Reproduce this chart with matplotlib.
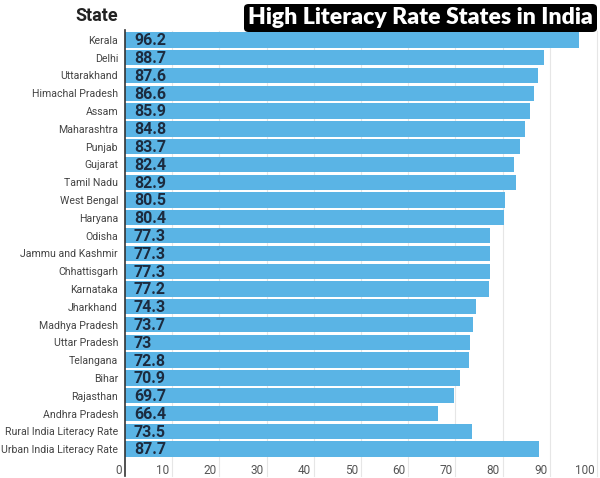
import matplotlib
matplotlib.use("Agg")
import matplotlib.pyplot as plt
import matplotlib.transforms as mtransforms
from matplotlib.patches import FancyBboxPatch

states = ["Kerala", "Delhi", "Uttarakhand", "Himachal Pradesh", "Assam", "Maharashtra",
          "Punjab", "Gujarat", "Tamil Nadu", "West Bengal", "Haryana", "Odisha",
          "Jammu and Kashmir", "Chhattisgarh", "Karnataka", "Jharkhand", "Madhya Pradesh",
          "Uttar Pradesh", "Telangana", "Bihar", "Rajasthan", "Andhra Pradesh",
          "Rural India Literacy Rate", "Urban India Literacy Rate"]
rates = [96.2, 88.7, 87.6, 86.6, 85.9, 84.8, 83.7, 82.4, 82.9, 80.5, 80.4, 77.3,
         77.3, 77.3, 77.2, 74.3, 73.7, 73, 72.8, 70.9, 69.7, 66.4, 73.5, 87.7]
rate_labels = ["96.2", "88.7", "87.6", "86.6", "85.9", "84.8", "83.7", "82.4", "82.9",
               "80.5", "80.4", "77.3", "77.3", "77.3", "77.2", "74.3", "73.7", "73",
               "72.8", "70.9", "69.7", "66.4", "73.5", "87.7"]
xticks = [0, 10, 20, 30, 40, 50, 60, 70, 80, 90, 100]
title = "High Literacy Rate States in India"
header = "State"

W, H = 600, 478
fig = plt.figure(figsize=(6, 4.78), dpi=100)
fig.patch.set_facecolor("white")

left_px, right_px, top_px, bot_px = 125, 597, 31, 458
ax = fig.add_axes([left_px / W, 1 - bot_px / H, (right_px - left_px) / W, (bot_px - top_px) / H])
ax.set_xlim(0, 100)
n = len(states)
ax.set_ylim(n - 0.5, -0.5)

for x in xticks[1:]:
    ax.plot([x, x], [n - 0.5 + 1.0, -0.5], color="#e6e6e6", lw=0.8, zorder=0, clip_on=False)

ypos = list(range(n))
ax.barh(ypos, rates, height=0.86, color="#5ab4e5", zorder=2)
for y, lab in zip(ypos, rate_labels):
    ax.text(1.9, y + 0.05, lab, ha="left", va="center", fontsize=11.5, fontweight="bold",
            color="#1c2b3f", family="Roboto", zorder=3)

for s in ["top", "right", "bottom", "left"]:
    ax.spines[s].set_visible(False)
ax.plot([0, 0], [n - 0.5 + 1.0, -0.55], color="#333333", lw=1.2, clip_on=False, zorder=4)

ax.set_yticks(ypos)
ax.set_yticklabels(states, fontsize=7.6, color="#444444", family="Roboto")
ax.tick_params(axis="y", length=0, pad=5)

ax.set_xticks(xticks)
ax.set_xticklabels([str(v) for v in xticks], fontsize=8.5, color="#555555", family="Roboto")
ax.tick_params(axis="x", length=0, pad=4)
offset = mtransforms.ScaledTranslation(-2 / 72, 0, fig.dpi_scale_trans)
for lbl in ax.get_xticklabels():
    lbl.set_ha("right")
    lbl.set_transform(lbl.get_transform() + offset)

fig.text(118 / W, 1 - 16 / H, header, ha="right", va="center", fontsize=13,
         fontweight="bold", color="#222222", family="Roboto")

box = FancyBboxPatch((244 / W, 1 - 32 / H), (597 - 244) / W, 28 / H,
                     boxstyle="round,pad=0,rounding_size=0.008", transform=fig.transFigure,
                     facecolor="black", edgecolor="none", zorder=5)
fig.patches.append(box)
fig.text(420.5 / W, 1 - 18 / H, title, ha="center", va="center", fontsize=16.6,
         fontweight="heavy", color="white", family="Lato", zorder=6)

fig.savefig("out.png", dpi=100)
